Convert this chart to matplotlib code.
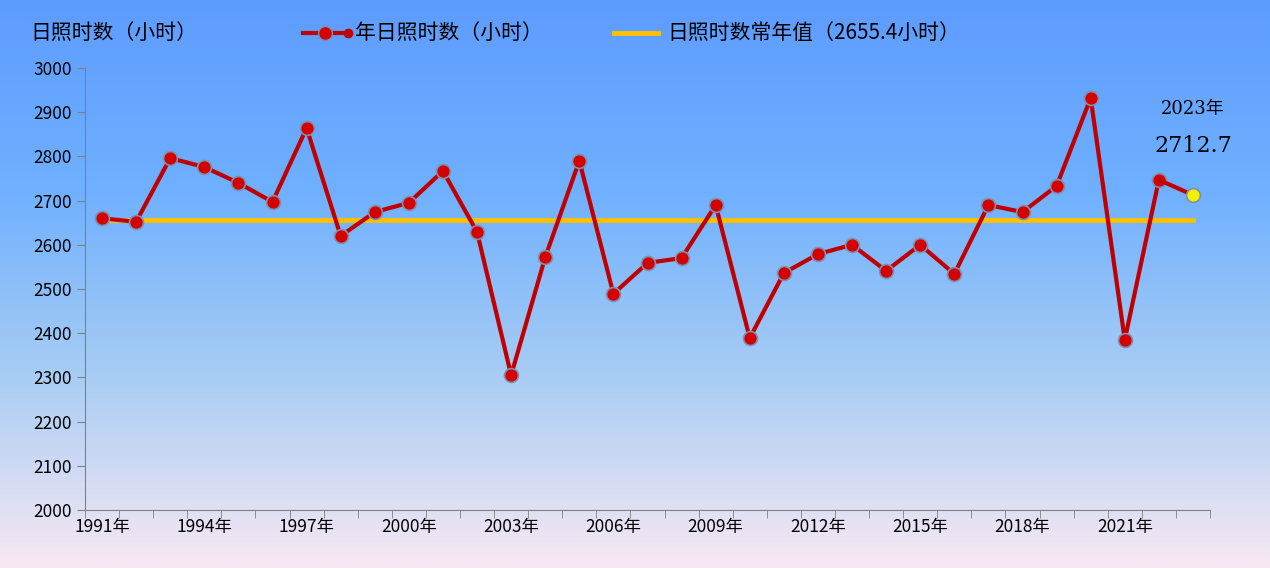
import numpy as np
import matplotlib.pyplot as plt
from matplotlib.colors import LinearSegmentedColormap

plt.rcParams['font.family'] = ['Noto Sans CJK SC', 'DejaVu Sans']

years = list(range(1991, 2024))
sunshine = [2660, 2652, 2796, 2776, 2740, 2697, 2864, 2620, 2674, 2695,
            2767, 2629, 2305, 2572, 2790, 2489, 2559, 2570, 2690, 2389,
            2536, 2579, 2600, 2541, 2600, 2534, 2690, 2674, 2733, 2932,
            2385, 2747, 2712.7]
normal = 2655.4
tick_years = list(range(1991, 2024, 3))

fig = plt.figure(figsize=(12.7, 5.68), dpi=100)
bg = fig.add_axes([0, 0, 1, 1], zorder=-1)
cmap = LinearSegmentedColormap.from_list('bg', ['#f8e8f4', '#a9cdf3', '#6fb0ff', '#5d9cff'])
bg.imshow(np.linspace(0, 1, 256).reshape(-1, 1), aspect='auto', cmap=cmap,
          origin='lower', extent=[0, 1, 0, 1])
bg.axis('off')

ax = fig.add_axes([85 / 1270, 1 - 510 / 568, (1210 - 85) / 1270, 442 / 568])
ax.patch.set_alpha(0)
x = np.arange(len(years))
ax.plot(x[:-1], sunshine[:-1], color='#c00000', lw=3, marker='o', ms=10,
        mfc='#d40000', mec='#7f8fb0', mew=1.2, zorder=3)
ax.plot(x[-2:], sunshine[-2:], color='#c00000', lw=3, zorder=3)
ax.plot(x[-1], sunshine[-1], marker='o', ms=10, mfc='#f0f000', mec='#7f8fb0', mew=1.2, zorder=4)
ax.plot([x[0], x[-1]], [normal, normal], color='#ffc000', lw=3.5, zorder=2)

ax.set_ylim(2000, 3000)
ax.set_xlim(-0.5, len(years) - 0.5)
ax.set_yticks(range(2000, 3001, 100))
ax.set_xticks(np.arange(-0.5, len(years), 1), minor=True)
ax.set_xticks([years.index(y) for y in tick_years])
ax.set_xticklabels([f'{y}年' for y in tick_years])
ax.tick_params(axis='x', which='major', length=0, labelsize=12.5, pad=6)
ax.tick_params(axis='x', which='minor', length=6, color='#808080')
ax.tick_params(axis='y', labelsize=12.5, length=6, color='#808080')
for s in ['top', 'right']:
    ax.spines[s].set_visible(False)
for s in ['left', 'bottom']:
    ax.spines[s].set_color('#808080')

ax.text(x[-1], 2895, '2023年', ha='center', fontsize=13, family=['DejaVu Serif', 'Noto Sans CJK SC'])
ax.text(x[-1], 2810, '2712.7', ha='center', fontsize=16, family='DejaVu Serif')

fig.text(30 / 1270, 1 - 33 / 568, '日照时数（小时）', fontsize=15, va='center')
fig.lines.append(plt.Line2D([303 / 1270, 348 / 1270], [1 - 33 / 568] * 2, color='#c00000', lw=3,
                            marker='o', markevery=[1], transform=fig.transFigure))
fig.lines.append(plt.Line2D([325 / 1270], [1 - 33 / 568], color='#c00000', marker='o', ms=10,
                            mfc='#d40000', mec='#7f8fb0', transform=fig.transFigure))
fig.text(355 / 1270, 1 - 33 / 568, '年日照时数（小时）', fontsize=15, va='center')
fig.lines.append(plt.Line2D([614 / 1270, 658 / 1270], [1 - 33 / 568] * 2, color='#ffc000', lw=3.5,
                            transform=fig.transFigure))
fig.text(667 / 1270, 1 - 33 / 568, '日照时数常年值（2655.4小时）', fontsize=15, va='center')

fig.savefig('out.png', dpi=100)
